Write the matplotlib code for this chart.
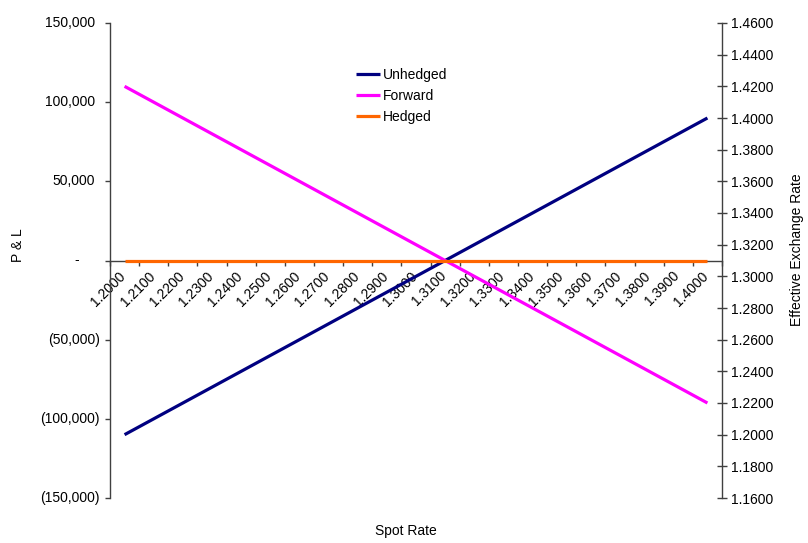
import numpy as np
import matplotlib
matplotlib.use('Agg')
import matplotlib.pyplot as plt
from matplotlib.ticker import FixedLocator, NullFormatter

plt.rcParams['font.family'] = ['Liberation Sans', 'DejaVu Sans']
plt.rcParams['font.size'] = 10

spot = ['1.2000', '1.2100', '1.2200', '1.2300', '1.2400', '1.2500', '1.2600',
        '1.2700', '1.2800', '1.2900', '1.3000', '1.3100', '1.3200', '1.3300',
        '1.3400', '1.3500', '1.3600', '1.3700', '1.3800', '1.3900', '1.4000']
unhedged = [-110000, -100000, -90000, -80000, -70000, -60000, -50000, -40000,
            -30000, -20000, -10000, 0, 10000, 20000, 30000, 40000, 50000,
            60000, 70000, 80000, 90000]
forward = [110000, 100000, 90000, 80000, 70000, 60000, 50000, 40000, 30000,
           20000, 10000, 0, -10000, -20000, -30000, -40000, -50000, -60000,
           -70000, -80000, -90000]
hedged = [1.31] * 21

pl_ticks = [150000, 100000, 50000, 0, -50000, -100000, -150000]
pl_labels = ['150,000', '100,000', '50,000', '-', '(50,000)', '(100,000)',
             '(150,000)']
rate_ticks = [1.16, 1.18, 1.20, 1.22, 1.24, 1.26, 1.28, 1.30, 1.32, 1.34,
              1.36, 1.38, 1.40, 1.42, 1.44, 1.46]

AXC = '#404040'
W, H = 808, 543

fig = plt.figure(figsize=(W / 100, H / 100), dpi=100)
ax = fig.add_axes([110 / W, 1 - 498 / H, (722 - 110) / W, (498 - 23) / H])
ax2 = ax.twinx()

x = np.arange(len(spot))
l1, = ax.plot(x, unhedged, color='#000080', lw=2.3, solid_capstyle='butt')
l2, = ax.plot(x, forward, color='#FF00FF', lw=2.3, solid_capstyle='butt')
l3, = ax2.plot(x, hedged, color='#FF6600', lw=2.3, solid_capstyle='butt')

ax.set_xlim(-0.5, len(spot) - 0.5)
ax.set_ylim(-150000, 150000)
ax2.set_ylim(1.16, 1.46)

# category axis sits on the zero line, ticks between categories
ax.spines['top'].set_visible(False)
ax2.spines['top'].set_visible(False)
ax2.spines['bottom'].set_visible(False)
ax2.spines['left'].set_visible(False)
ax.spines['right'].set_visible(False)
ax.spines['bottom'].set_position(('data', 0))
for s in ['left', 'bottom']:
    ax.spines[s].set_color(AXC)
    ax.spines[s].set_linewidth(1.0)
ax2.spines['right'].set_color(AXC)
ax2.spines['right'].set_linewidth(1.0)

ax.xaxis.set_major_locator(FixedLocator(np.arange(len(spot) + 1) - 0.5))
ax.xaxis.set_major_formatter(NullFormatter())
# labels hang just left of each category centre
ax.xaxis.set_minor_locator(FixedLocator(x - 0.2))
ax.set_xticklabels(spot, minor=True)
ax.tick_params(axis='x', which='major', direction='out', length=3.5,
               color=AXC, width=1)
ax.tick_params(axis='x', which='minor', length=0, pad=6)
for lab in ax.get_xticklabels(minor=True):
    lab.set_rotation(45)
    lab.set_ha('right')
    lab.set_va('top')
    lab.set_rotation_mode('anchor')

ax.set_yticks(pl_ticks)
ax.set_yticklabels([])
ax.tick_params(axis='y', direction='out', length=3.5, color=AXC, width=1)
ytf = ax.get_yaxis_transform()
for v, s in zip(pl_ticks, pl_labels):
    if v < 0:
        off = -10
    elif v > 0:
        off = -15
    else:
        off = -31
    ax.annotate(s, xy=(0, v), xycoords=ytf, xytext=(off, 0),
                textcoords='offset pixels', ha='right', va='center')

ax2.set_yticks(rate_ticks)
ax2.set_yticklabels(['%.4f' % r for r in rate_ticks])
ax2.tick_params(axis='y', direction='inout', length=7, color=AXC, width=1,
                pad=3)

fig.text(18 / W, 1 - 245 / H, 'P & L', rotation=90, ha='center', va='center')
fig.text(797 / W, 1 - 250 / H, 'Effective Exchange Rate', rotation=90,
         ha='center', va='center')
fig.text(406 / W, 1 - 531 / H, 'Spot Rate', ha='center', va='center')

fig.legend([l1, l2, l3], ['Unhedged', 'Forward', 'Hedged'],
           loc='upper left', bbox_to_anchor=(356 / W, 1 - 68 / H),
           frameon=False, handlelength=1.75, handletextpad=0.2,
           labelspacing=0.5, borderpad=0, borderaxespad=0)

fig.savefig('out.png', dpi=100)
